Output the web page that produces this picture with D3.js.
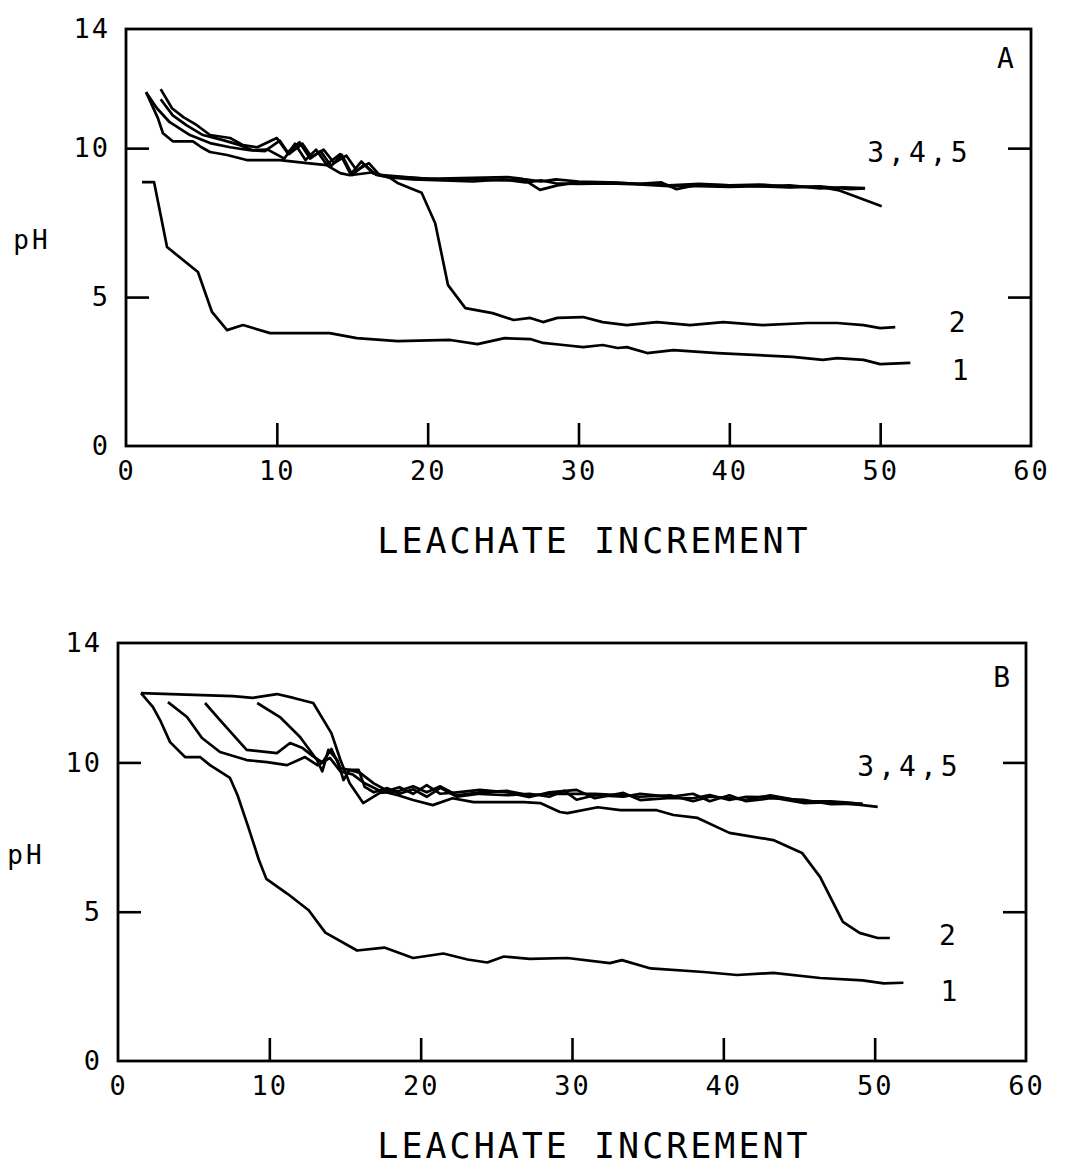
<!DOCTYPE html>
<html lang="en">
<head>
  <meta charset="UTF-8">
  <title>pH vs leachate increment</title>
  <style>
    body { margin: 0; background: #fff; }
    text { font-family: "DejaVu Sans Mono", "Liberation Mono", monospace; fill: #000; }
  </style>
</head>
<body>
  <svg id="chart" width="1068" height="1176"></svg>

  <script src="https://d3js.org/d3.v7.min.js"></script>
  <script>
    // ticks and labels
    const xTicks = [10, 20, 30, 40, 50];
    const xLabels = [0, 10, 20, 30, 40, 50, 60];
    const yTicks = [5, 10];
    const yLabels = [0, 5, 10, 14];
    const xTitle = "LEACHATE INCREMENT";
    const yTitle = "pH";

    // panel A  - [increment, pH]
    const phA1 = [[1.06,8.86],[1.86,8.86],[2.72,6.68],[4.77,5.84],[5.7,4.5],[6.7,3.89],[7.76,4.06],[9.55,3.79],[13.5,3.79],[15.3,3.62],[18.0,3.52],[21.5,3.56],[23.3,3.42],[25.1,3.62],[26.8,3.59],[27.65,3.46],[29.0,3.39],[30.3,3.32],[31.6,3.39],[32.6,3.29],[33.2,3.32],[34.55,3.12],[36.3,3.22],[39.2,3.12],[44.2,2.99],[46.2,2.89],[47.15,2.95],[48.9,2.89],[50.0,2.75],[52.0,2.79]];
    const phA2 = [[1.33,11.88],[2.12,11.0],[2.45,10.5],[3.1,10.23],[4.44,10.23],[5.0,10.03],[5.57,9.87],[6.7,9.77],[8.0,9.6],[10.2,9.6],[12.0,9.5],[13.3,9.43],[14.2,9.16],[14.85,9.09],[16.4,9.19],[17.5,9.0],[18.0,8.83],[19.6,8.5],[20.5,7.48],[21.35,5.4],[22.5,4.63],[24.3,4.46],[25.7,4.23],[26.8,4.3],[27.65,4.16],[28.6,4.3],[30.3,4.33],[31.6,4.16],[33.2,4.06],[35.2,4.16],[37.4,4.06],[39.6,4.16],[42.2,4.06],[45.2,4.13],[47.15,4.13],[48.9,4.06],[50.0,3.96],[51.0,3.99]];
    const phA3 = [[1.33,11.88],[2.05,11.34],[2.9,10.87],[4.24,10.44],[5.57,10.17],[6.9,10.03],[8.2,9.93],[9.2,9.9],[10.2,10.25],[10.8,9.8],[11.7,10.15],[12.3,9.7],[13.1,9.95],[13.8,9.5],[14.6,9.75],[15.3,9.25],[16.1,9.5],[16.8,9.1],[17.97,9.05],[20,8.97],[23,9.0],[25.3,9.03],[26.3,8.97],[27.45,8.6],[28.6,8.75],[30,8.85],[32,8.85],[34,8.8],[36,8.75],[38,8.8],[40,8.75],[42,8.78],[44,8.7],[46,8.7],[47.3,8.58],[48.5,8.35],[50.1,8.05]];
    const phA4 = [[2.3,11.64],[3.1,11.1],[4.0,10.77],[5.1,10.44],[6.43,10.27],[7.56,10.1],[8.4,9.93],[9.4,9.95],[10.5,9.65],[11.2,10.15],[11.9,9.6],[12.6,9.95],[13.3,9.45],[14.2,9.8],[14.9,9.12],[15.6,9.55],[16.4,9.15],[17.2,9.05],[19,9.0],[21,8.95],[23,8.95],[25,8.92],[26.5,8.95],[27.5,8.88],[28.5,8.95],[30,8.88],[32,8.85],[34,8.8],[35.5,8.85],[36.5,8.62],[38,8.78],[40,8.75],[42,8.72],[44,8.75],[46,8.65],[47.5,8.68],[49,8.66]];
    const phA5 = [[2.3,11.98],[3.05,11.34],[3.8,11.04],[4.7,10.77],[5.57,10.44],[6.9,10.34],[7.76,10.1],[8.7,10.03],[10.0,10.34],[10.7,9.85],[11.5,10.2],[12.2,9.65],[12.9,9.9],[13.6,9.4],[14.3,9.78],[15.0,9.1],[15.8,9.45],[16.6,9.1],[17.5,9.02],[19,8.95],[21,8.92],[23,8.88],[25,8.95],[26.5,8.85],[27.5,8.92],[28.5,8.82],[30,8.8],[32,8.82],[34,8.78],[36,8.72],[38,8.72],[40,8.7],[42,8.72],[44,8.68],[46,8.72],[48,8.62],[49,8.65]];

    // panel B
    const phB1 = [[1.52,12.32],[2.3,11.86],[2.78,11.42],[3.44,10.68],[4.43,10.18],[5.42,10.18],[6.08,9.91],[7.4,9.48],[7.9,8.9],[8.6,7.85],[9.3,6.75],[9.8,6.1],[11.2,5.6],[12.6,5.05],[13.7,4.3],[15.8,3.7],[17.6,3.8],[19.5,3.45],[21.5,3.6],[23.1,3.4],[24.4,3.3],[25.5,3.5],[27.2,3.42],[29.7,3.45],[32.5,3.28],[33.3,3.38],[35.2,3.1],[38.7,2.98],[40.9,2.88],[43.3,2.95],[46.4,2.78],[49.2,2.7],[50.6,2.6],[51.9,2.62]];
    const phB2 = [[3.3,12.02],[4.56,11.52],[5.55,10.82],[6.74,10.35],[8.5,10.08],[9.85,10.01],[11.17,9.91],[12.36,10.18],[13.2,9.9],[14.0,10.15],[14.7,9.7],[15.5,9.6],[16.3,9.3],[17.3,9.05],[18.5,8.9],[19.5,8.74],[20.8,8.57],[22.1,8.8],[23.5,8.67],[25.7,8.67],[26.8,8.67],[27.9,8.64],[29.2,8.34],[29.7,8.3],[31.7,8.5],[33.2,8.4],[35.6,8.4],[36.7,8.24],[38.3,8.14],[40.4,7.64],[43.3,7.4],[45.2,6.97],[46.4,6.16],[47.9,4.66],[49.0,4.29],[50.2,4.12],[51.0,4.12]];
    const phB3 = [[5.75,11.99],[6.74,11.42],[8.5,10.42],[10.5,10.31],[11.37,10.65],[12.2,10.48],[12.9,10.2],[13.5,10.0],[14.1,10.45],[14.7,9.8],[15.3,9.75],[16.0,9.65],[16.9,9.3],[17.8,9.05],[18.6,9.17],[19.5,8.95],[20.4,9.24],[21.3,8.95],[22.4,9.0],[23.9,9.08],[25.7,9.0],[27.2,8.84],[28.5,9.0],[30.3,9.08],[31.5,8.8],[33.4,8.98],[34.5,8.74],[36.5,8.81],[38,8.8],[39.1,8.91],[40.4,8.74],[41.5,8.85],[43.1,8.84],[45.3,8.64],[47.1,8.67],[49.2,8.57],[50.2,8.51]];
    const phB4 = [[9.2,11.99],[10.7,11.52],[12.03,10.85],[13.15,10.08],[13.5,9.7],[13.9,10.42],[14.5,10.08],[14.9,9.41],[15.3,9.75],[15.9,9.75],[16.3,9.18],[16.9,9.0],[17.8,9.14],[18.6,8.95],[19.5,9.1],[20.4,8.85],[21.3,9.15],[22.4,8.85],[23.9,8.95],[25.7,8.9],[27.2,8.95],[28.5,8.85],[29.5,9.05],[30.3,8.75],[31.5,8.9],[33.4,8.85],[34.5,8.95],[36.5,8.85],[38,8.95],[39.1,8.7],[40.4,8.9],[41.5,8.7],[43.1,8.8],[45.3,8.75],[47.1,8.6],[49.2,8.62]];
    const phB5 = [[1.52,12.32],[4,12.28],[7.6,12.22],[8.9,12.16],[10.5,12.29],[11.6,12.16],[12.9,11.99],[14.1,10.98],[14.7,10.08],[15.3,9.31],[16.2,8.64],[17.3,8.98],[18.6,9.05],[19.5,9.2],[20.4,9.0],[21.3,9.2],[22.4,8.9],[23.9,9.0],[25.7,9.05],[27.2,8.9],[28.5,8.95],[30.3,8.95],[31.5,8.95],[33.4,8.9],[34.5,8.85],[36.5,8.9],[38,8.7],[39.1,8.85],[40.4,8.8],[41.5,8.75],[43.1,8.9],[45.3,8.7],[47.1,8.7],[48.5,8.65],[49.2,8.6]];

    // curve labels: [text, increment, pH]
    const notesA = [["A", 58.3, 13.0], ["3,4,5", 52.6, 9.87], ["2", 55.1, 4.16], ["1", 55.3, 2.55]];
    const notesB = [["B", 58.4, 12.86], ["3,4,5", 52.3, 9.85], ["2", 54.8, 4.19], ["1", 54.9, 2.34]];

    // layout of the two panels (scan is slightly shifted between them)
    const panels = [
      { curves: [phA1, phA2, phA3, phA4, phA5], notes: notesA,
        left: 126, right: 1031, bottom: 446, top: 29, yLabelX: 32, yLabelY: 240, titleY: 553 },
      { curves: [phB1, phB2, phB3, phB4, phB5], notes: notesB,
        left: 118, right: 1026, bottom: 1061, top: 643, yLabelX: 26, yLabelY: 855, titleY: 1158 }
    ];

    const svg = d3.select("#chart");
    svg.append("rect").attr("width", 1068).attr("height", 1176).attr("fill", "#fff");

    panels.forEach(p => {
      const x = d3.scaleLinear().domain([0, 60]).range([p.left, p.right]);
      const y = d3.scaleLinear().domain([0, 14]).range([p.bottom, p.top]);
      const g = svg.append("g");

      // inward tick marks
      const tickStyle = sel => {
        sel.select(".domain").remove();
        sel.selectAll("line").attr("stroke", "#000").attr("stroke-width", 2.6);
      };
      g.append("g").attr("transform", `translate(${x(0)},0)`)
        .call(d3.axisLeft(y).tickValues(yTicks).tickSize(-23).tickFormat(""))
        .call(tickStyle);
      g.append("g").attr("transform", `translate(${x(60)},0)`)
        .call(d3.axisRight(y).tickValues(yTicks).tickSize(-23).tickFormat(""))
        .call(tickStyle);
      g.append("g").attr("transform", `translate(0,${y(0)})`)
        .call(d3.axisBottom(x).tickValues(xTicks).tickSize(-23).tickFormat(""))
        .call(tickStyle);

      // tick labels
      const labelStyle = sel => {
        sel.select(".domain").remove();
        sel.selectAll("line").remove();
        sel.selectAll("text")
          .attr("font-family", '"DejaVu Sans Mono", monospace')
          .attr("font-size", 27)
          .attr("letter-spacing", 2)
          .attr("fill", "#000");
      };
      g.append("g").attr("transform", `translate(${x(0)},0)`)
        .call(d3.axisLeft(y).tickValues(yLabels).tickSize(0).tickPadding(16))
        .call(labelStyle);
      g.append("g").attr("transform", `translate(0,${y(0)})`)
        .call(d3.axisBottom(x).tickValues(xLabels).tickSize(0).tickPadding(15))
        .call(labelStyle);

      // frame
      g.append("rect")
        .attr("x", x(0)).attr("y", y(14))
        .attr("width", x(60) - x(0)).attr("height", y(0) - y(14))
        .attr("fill", "none").attr("stroke", "#000").attr("stroke-width", 2.8);

      // curves
      const line = d3.line().x(d => x(d[0])).y(d => y(d[1]));
      g.selectAll("path.curve").data(p.curves).enter()
        .append("path")
        .attr("class", "curve")
        .attr("d", line)
        .attr("fill", "none")
        .attr("stroke", "#000")
        .attr("stroke-width", 2.7)
        .attr("stroke-linejoin", "round");

      // curve / panel labels
      g.selectAll("text.note").data(p.notes).enter()
        .append("text")
        .attr("class", "note")
        .attr("x", d => x(d[1])).attr("y", d => y(d[2]))
        .attr("text-anchor", "middle")
        .attr("dominant-baseline", "central")
        .attr("font-size", 28)
        .attr("letter-spacing", d => d[0].length > 1 ? 4 : 0)
        .text(d => d[0]);

      // axis titles
      g.append("text")
        .attr("x", p.yLabelX).attr("y", p.yLabelY)
        .attr("text-anchor", "middle")
        .attr("dominant-baseline", "central")
        .attr("font-size", 26)
        .attr("letter-spacing", 3)
        .text(yTitle);
      g.append("text")
        .attr("x", 594).attr("y", p.titleY)
        .attr("text-anchor", "middle")
        .attr("font-size", 35)
        .attr("letter-spacing", 3)
        .text(xTitle);
    });
  </script>
</body>
</html>
